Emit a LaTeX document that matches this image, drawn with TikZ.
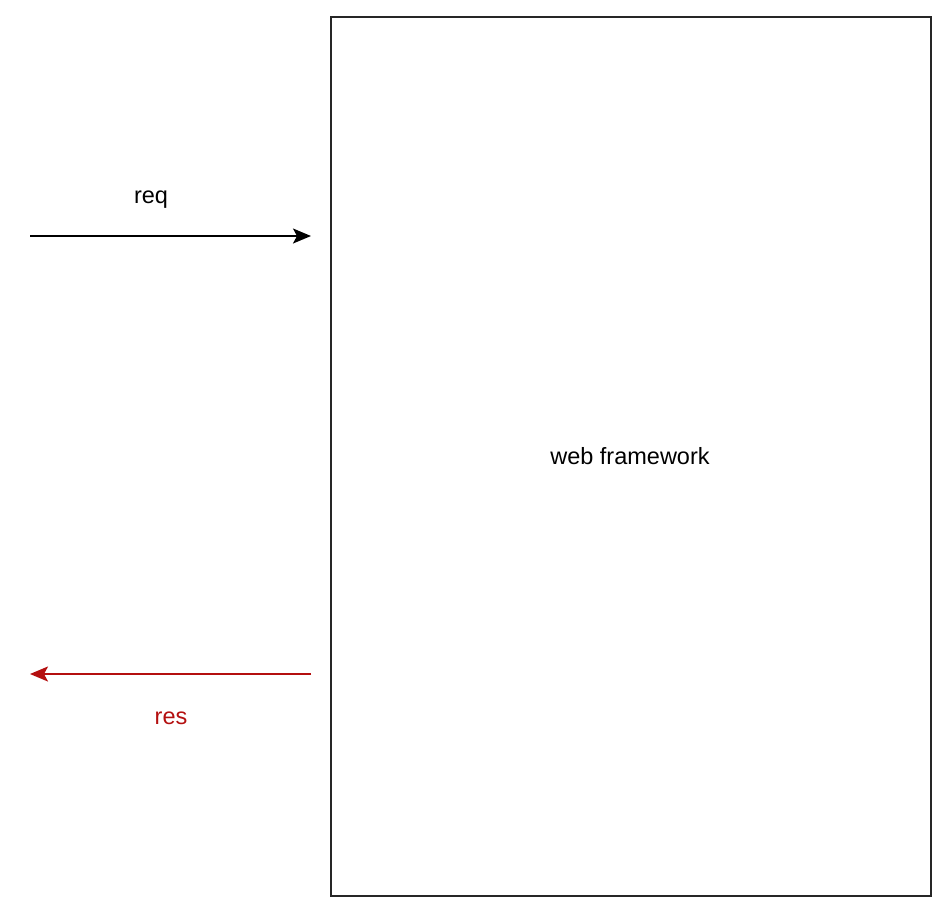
\documentclass[tikz,border=0pt]{standalone}
\usepackage{fontspec}
\setmainfont{Liberation Sans}
\usetikzlibrary{arrows.meta}
\definecolor{resred}{HTML}{B40F0F}
\begin{document}
\begin{tikzpicture}[x=1pt,y=-1pt,
  frame/.style={draw=black!85, line width=1.8pt},
  flow/.style={line width=1.8pt, -{Stealth[length=18pt,width=15pt,inset=4pt]}},
  lbl/.style={font=\fontsize{23.5}{28}\selectfont, inner sep=0pt}]
\useasboundingbox (0,0) rectangle (948,914);
\fill[white] (0,0) rectangle (948,914);
\node[frame, minimum width=600pt, minimum height=879pt, inner sep=0pt, anchor=north west] (fw) at (330,16) {};
\node[lbl] (fwlabel) at (630,456) {web framework};
\coordinate (reqstart) at (30,236);
\coordinate (reqend) at (311,236);
\coordinate (resstart) at (311,674);
\coordinate (resend) at (30,674);
\draw[flow] (reqstart) -- (reqend);
\draw[flow, resred] (resstart) -- (resend);
\node[lbl] (req) at (151,200) {req};
\node[lbl, text=resred] (res) at (171,718) {res};
\end{tikzpicture}
\end{document}
